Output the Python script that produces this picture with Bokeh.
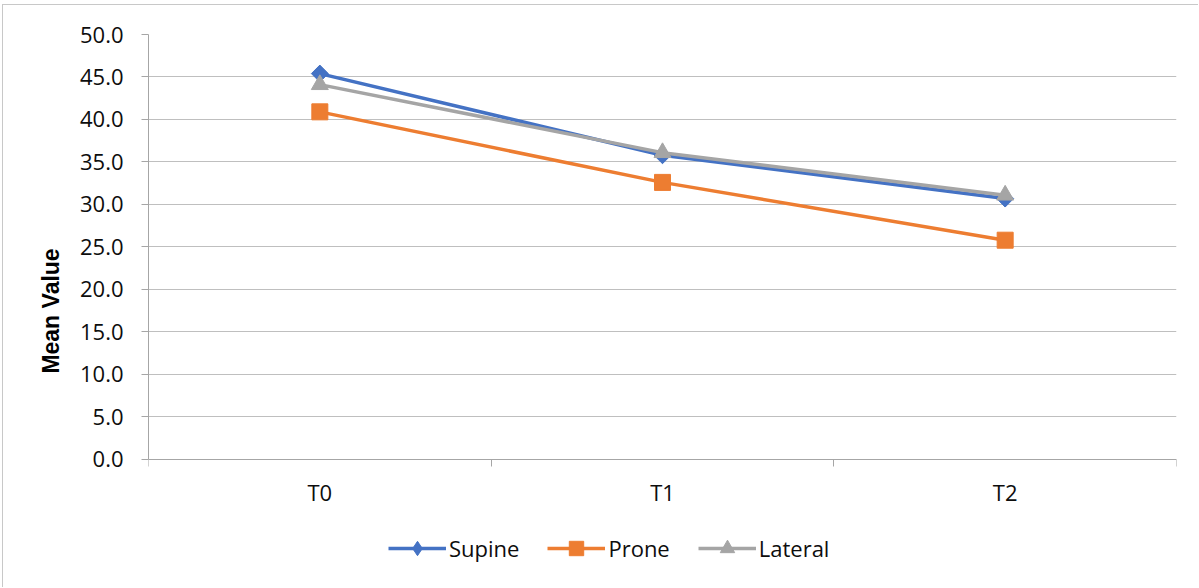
import math
from bokeh.plotting import figure
from bokeh.models import (FixedTicker, PrintfTickFormatter, Range1d, Legend, LegendItem, LinearAxis)
from bokeh.embed import file_html
from bokeh.resources import INLINE

categories = ["T0", "T1", "T2"]
supine = [45.4, 35.8, 30.7]
prone = [40.9, 32.6, 25.8]
lateral = [44.1, 36.1, 31.1]
y_ticks = [0, 5, 10, 15, 20, 25, 30, 35, 40, 45, 50]

xpos = [i + 0.5 for i in range(len(categories))]

p = figure(width=1196, height=583, output_backend="svg", toolbar_location=None,
           x_range=Range1d(0, 3), y_range=Range1d(-15.06, 50),
           x_axis_location=None,
           min_border_left=145, min_border_right=23, min_border_top=29, min_border_bottom=1)
p.outline_line_color = None
p.background_fill_color = "white"
p.border_fill_color = "white"
p.styles = {"border-top": "1px solid #c8c8c8", "border-left": "1px solid #c8c8c8",
            "margin-top": "4px", "margin-left": "2px"}

p.xgrid.grid_line_color = None
p.ygrid.ticker = FixedTicker(ticks=y_ticks)
p.ygrid.grid_line_color = "#bfbfbf"
p.ygrid.grid_line_width = 1

xaxis = LinearAxis(fixed_location=0)
xaxis.ticker = FixedTicker(ticks=xpos, minor_ticks=[0, 1, 2, 3])
xaxis.major_label_overrides = {x: c for x, c in zip(xpos, categories)}
xaxis.major_tick_out = 0
xaxis.major_tick_in = 0
xaxis.minor_tick_out = 7
xaxis.minor_tick_in = 0
xaxis.minor_tick_line_color = "#a6a6a6"
xaxis.axis_line_color = "#a6a6a6"
xaxis.axis_line_width = 1
xaxis.major_label_text_font = "Open Sans"
xaxis.major_label_text_font_size = "22px"
xaxis.major_label_text_color = "#0d0d0d"
xaxis.major_label_standoff = 11
p.add_layout(xaxis, "below")

p.yaxis.ticker = FixedTicker(ticks=y_ticks)
p.yaxis.bounds = (0, 50)
p.yaxis.formatter = PrintfTickFormatter(format="%.1f")
p.yaxis.major_tick_out = 7
p.yaxis.major_tick_in = 0
p.yaxis.minor_tick_line_color = None
p.yaxis.major_tick_line_color = "#a6a6a6"
p.yaxis.axis_line_color = "#a6a6a6"
p.yaxis.major_label_text_font = "Open Sans"
p.yaxis.major_label_text_font_size = "22px"
p.yaxis.major_label_text_color = "#0d0d0d"
p.yaxis.major_label_standoff = 18
p.yaxis.axis_label = "Mean Value"
p.yaxis.axis_label_text_font = "Liberation Sans"
p.yaxis.axis_label_text_font_style = "bold"
p.yaxis.axis_label_text_font_size = "23px"
p.yaxis.axis_label_text_color = "#000000"
p.yaxis.axis_label_standoff = 13

colors = ["#4472C4", "#ED7D31", "#A5A5A5"]
names = ["Supine", "Prone", "Lateral"]
series = [supine, prone, lateral]
markers = ["square", "square", "triangle"]
legend_markers = ["diamond", "square", "triangle"]
angles = [math.pi / 4, 0, 0]
sizes = [12, 16, 17]

items = []
for name, vals, col, mk, lmk, sz, ang in zip(names, series, colors, markers,
                                             legend_markers, sizes, angles):
    l = p.line(xpos, vals, line_color=col, line_width=3.5)
    if lmk != mk:
        # diamond drawn beneath the rotated square (fully covered); used for the key
        lg = p.scatter(xpos, vals, marker=lmk, size=16, fill_color=col, line_color=col)
    m = p.scatter(xpos, vals, marker=mk, size=sz, angle=ang,
                  fill_color=col, line_color=col)
    items.append(LegendItem(label=name, renderers=[l, lg if lmk != mk else m]))

legend = Legend(items=items, orientation="horizontal", location=(240, 21),
                label_text_font="Open Sans", label_text_font_size="22px",
                label_text_color="#0d0d0d", glyph_width=58, glyph_height=36,
                label_standoff=3, spacing=28, border_line_color=None,
                background_fill_alpha=0, margin=0, padding=0)
p.add_layout(legend, "center")

open("out.html", "w").write(file_html(p, INLINE))
